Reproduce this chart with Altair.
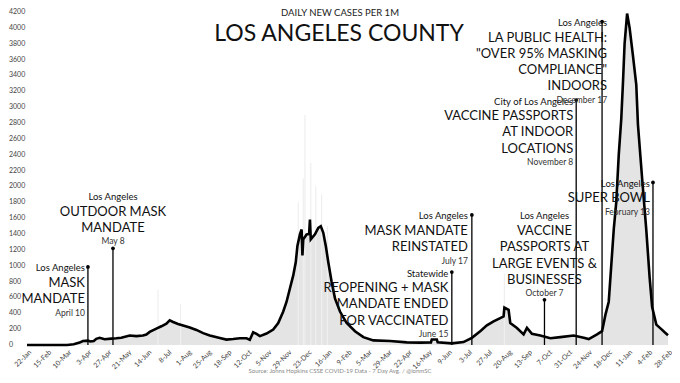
import altair as alt
import pandas as pd

# ---------------- data ----------------
dates = [
    "2020-01-22", "2020-03-10", "2020-03-18", "2020-03-25", "2020-03-29", "2020-04-04",
    "2020-04-07", "2020-04-11", "2020-04-14", "2020-04-18", "2020-04-24", "2020-05-02",
    "2020-05-08", "2020-05-14", "2020-05-24", "2020-06-01", "2020-06-09", "2020-06-13",
    "2020-06-17", "2020-06-25", "2020-07-01", "2020-07-07", "2020-07-11", "2020-07-15",
    "2020-07-21", "2020-07-27", "2020-08-04", "2020-08-12", "2020-08-20", "2020-08-28",
    "2020-09-09", "2020-09-17", "2020-09-25", "2020-10-03", "2020-10-11", "2020-10-15",
    "2020-10-19", "2020-10-23", "2020-10-27", "2020-11-04", "2020-11-12", "2020-11-18",
    "2020-11-24", "2020-11-28", "2020-12-02", "2020-12-06", "2020-12-09", "2020-12-11",
    "2020-12-14", "2020-12-16", "2020-12-17", "2020-12-18", "2020-12-22", "2020-12-25",
    "2020-12-26", "2020-12-27", "2021-01-01", "2021-01-05", "2021-01-08", "2021-01-11",
    "2021-01-14", "2021-01-17", "2021-01-21", "2021-01-25", "2021-01-31", "2021-02-08",
    "2021-02-18", "2021-02-28", "2021-03-12", "2021-04-01", "2021-04-21", "2021-05-07",
    "2021-05-20", "2021-05-21", "2021-05-27", "2021-05-28", "2021-06-14", "2021-06-28",
    "2021-07-08", "2021-07-18", "2021-07-26", "2021-08-03", "2021-08-11", "2021-08-15",
    "2021-08-16", "2021-08-21", "2021-08-23", "2021-08-31", "2021-09-08", "2021-09-12",
    "2021-09-18", "2021-09-28", "2021-10-10", "2021-10-22", "2021-11-07", "2021-11-19",
    "2021-11-25", "2021-12-05", "2021-12-11", "2021-12-15", "2021-12-19", "2021-12-22",
    "2021-12-25", "2021-12-28", "2021-12-31", "2022-01-03", "2022-01-05", "2022-01-07",
    "2022-01-10", "2022-01-13", "2022-01-17", "2022-01-21", "2022-01-23", "2022-01-28",
    "2022-02-02", "2022-02-06", "2022-02-09", "2022-02-14", "2022-02-20", "2022-02-24",
    "2022-02-28",
]
cases_7day = [
    0, 0, 10, 30, 50, 55,
    45, 50, 78, 91, 72, 80,
    85, 92, 120, 112, 120, 133,
    165, 207, 236, 270, 310, 290,
    265, 245, 220, 190, 150, 120,
    88, 68, 75, 85, 85, 65,
    160, 140, 112, 145, 195, 277,
    422, 546, 712, 878, 1043, 1250,
    1395, 1457, 1130, 1333, 1395, 1400,
    1581, 1333, 1395, 1478, 1499, 1416,
    1250, 1043, 795, 588, 422, 277,
    174, 99, 58, 50, 33, 30,
    33, 70, 70, 35, 21, 37,
    91, 174, 248, 298, 339, 360,
    472, 443, 277, 215, 133, 215,
    140, 120, 85, 99, 120, 91,
    75, 133, 174, 380, 546, 1000,
    1457, 1800, 2400, 2850, 3300, 3800,
    4180, 4000, 3650, 3280, 2780, 2100,
    1450, 850, 480, 257, 200, 160,
    124,
]

# single-day reports that stand above the 7-day line (faint grey bars)
spike_dates = ["2020-06-27", "2020-07-24", "2020-12-12", "2020-12-18", "2020-12-20",
               "2020-12-27", "2021-01-02", "2021-01-09", "2021-01-16", "2021-08-16"]
spike_values = [700, 520, 1800, 2100, 2900, 2300, 2000, 1900, 1500, 900]

# annotations
ann_events = ["2020-04-04", "2020-05-04", "2021-06-14", "2021-07-08",
              "2021-10-03", "2021-11-10", "2021-12-11", "2022-02-10"]
ann_tops = [985, 1220, 920, 1640, 570, 3090, 4080, 2050]
ann_kicker = ["Los Angeles", "Los Angeles", "Statewide", "Los Angeles",
              "Los Angeles", "City of Los Angeles", "Los Angeles", "Los Angeles"]
ann_main = [
    ["MASK", "MANDATE"],
    ["OUTDOOR MASK", "MANDATE"],
    ["REOPENING + MASK", "MANDATE ENDED", "FOR VACCINATED"],
    ["MASK MANDATE", "REINSTATED"],
    ["VACCINE", "PASSPORTS AT", "LARGE EVENTS &", "BUSINESSES"],
    ["VACCINE PASSPORTS", "AT INDOOR", "LOCATIONS"],
    ["LA PUBLIC HEALTH:", "\"OVER 95% MASKING", "COMPLIANCE\"", "INDOORS"],
    ["SUPER BOWL"],
]
ann_when = ["April 10", "May 8", "June 15", "July 17",
            "October 7", "November 8", "December 17", "February 13"]

y_ticks = list(range(0, 4201, 200))
x_start, x_end = "2020-01-22", "2022-02-28"

# ---------------- layout / style ----------------
W, H = 641, 333
PAD = {"left": 19, "top": 4, "right": 4, "bottom": 30}
FONT = "Lato"
ann_layout = ["right", "center", "right", "right", "center", "right", "right", "right"]
ann_dx = [-3, 0, -3.5, -4, 0, -3, 5, -3]


def ms(d):
    return int(pd.Timestamp(d, tz="UTC").value // 1_000_000)


t0, t1 = ms(x_start), ms(x_end)
ms_per_px = (t1 - t0) / W
val_per_px = 4200 / H
tick_values = list(range(t0, t1 + 1, 24 * 86400 * 1000))

xscale = alt.Scale(type="utc", domain=[t0, t1])
yscale = alt.Scale(domain=[0, 4200], nice=False)


def X(field):
    return alt.X(field, scale=xscale)


def Y(field):
    return alt.Y(field, scale=yscale, axis=None)


x_axis = alt.Axis(values=tick_values, tickCount=200,
                  labelExpr="utcFormat(datum.value, '%-d-%b')",
                  labelAngle=-45, labelOverlap=False, title=None, labelPadding=3)

series = pd.DataFrame({"date": dates, "v": cases_7day})
spikes = pd.DataFrame({"date": spike_dates, "v": spike_values})
events = pd.DataFrame({"date": ann_events, "top": ann_tops})
yticks_df = pd.DataFrame({"v": y_ticks, "lab": [str(v) for v in y_ticks]})

area = alt.Chart(series).mark_area(color="#e4e4e4").encode(
    x=alt.X("date:T", scale=xscale, axis=x_axis), y=Y("v:Q")
)
spike_bars = alt.Chart(spikes).mark_rule(color="#efefef", strokeWidth=1.2).encode(
    x=X("date:T"), y=Y("v:Q"), y2=alt.datum(0)
)
line = alt.Chart(series).mark_line(color="black", strokeWidth=2.6).encode(
    x=X("date:T"), y=Y("v:Q")
)
rules = alt.Chart(events).mark_rule(color="black", strokeWidth=1.3).encode(
    x=X("date:T"), y=Y("top:Q"), y2=alt.datum(0)
)
dots = alt.Chart(events).mark_circle(color="black", size=14, opacity=1).encode(
    x=X("date:T"), y=Y("top:Q")
)
y_labels = alt.Chart(yticks_df).mark_text(
    font=FONT, fontSize=7, color="#444", align="left", baseline="middle"
).encode(x=alt.value(-18), y=Y("v:Q"), text="lab:N")

# text rows
rows = []
for i in range(len(ann_events)):
    xm = ms(ann_events[i]) + ann_dx[i] * ms_per_px
    top = ann_tops[i]
    n = len(ann_main[i])
    if ann_layout[i] == "right":
        k_off = 1.5
        m_offs = [16 + 16.3 * k for k in range(n)]
        w_off = m_offs[-1] + 13.5
    else:
        m_offs = [-20 - 16.3 * (n - 1 - k) for k in range(n)]
        k_off = m_offs[0] - 14.5
        w_off = -7
    rows.append({"x": xm, "y": top - k_off * val_per_px, "t": ann_kicker[i],
                 "kind": "kicker", "al": ann_layout[i]})
    for txt, off in zip(ann_main[i], m_offs):
        rows.append({"x": xm, "y": top - off * val_per_px, "t": txt,
                     "kind": "main", "al": ann_layout[i]})
    rows.append({"x": xm, "y": top - w_off * val_per_px, "t": ann_when[i],
                 "kind": "when", "al": ann_layout[i]})
texts = pd.DataFrame(rows)

kind_style = {"kicker": (9.5, "#111"), "main": (13, "#111"), "when": (8.5, "#333")}
text_layers = []
for kind, (fs, col) in kind_style.items():
    for al in ["right", "center"]:
        sub = texts[(texts["kind"] == kind) & (texts["al"] == al)]
        if len(sub) == 0:
            continue
        text_layers.append(
            alt.Chart(sub).mark_text(font=FONT, fontSize=fs, color=col, align=al,
                                     baseline="middle").encode(
                x=X("x:T"), y=Y("y:Q"), text="t:N")
        )

title_small = alt.Chart(pd.DataFrame({"t": ["DAILY NEW CASES PER 1M"]})).mark_text(
    font=FONT, fontSize=9.5, color="#222", align="center", baseline="middle"
).encode(text="t:N", x=alt.value(313), y=alt.value(1))
title_big = alt.Chart(pd.DataFrame({"t": ["LOS ANGELES COUNTY"]})).mark_text(
    font=FONT, fontSize=23, color="#111", align="center", baseline="alphabetic"
).encode(text="t:N", x=alt.value(312), y=alt.value(28.5))
source = alt.Chart(pd.DataFrame(
    {"t": ["Source: Johns Hopkins CSSE COVID-19 Data - 7 Day Avg. / @ionmSC"]})).mark_text(
    font=FONT, fontSize=6, color="#888", align="center", baseline="middle"
).encode(text="t:N", x=alt.value(313), y=alt.value(359))

chart = alt.layer(
    area, spike_bars, line, rules, dots, y_labels, *text_layers,
    title_small, title_big, source
).properties(
    width=W, height=H, padding=PAD, autosize=alt.AutoSizeParams(type="none"),
    background="white",
).configure_view(stroke=None).configure_axis(
    labelFont=FONT, labelFontSize=7, labelColor="#444", domain=False, ticks=False,
    tickSize=0, grid=False, labelOverlap=False
)

chart.save("out.html", embed_options={"renderer": "svg", "actions": False})
